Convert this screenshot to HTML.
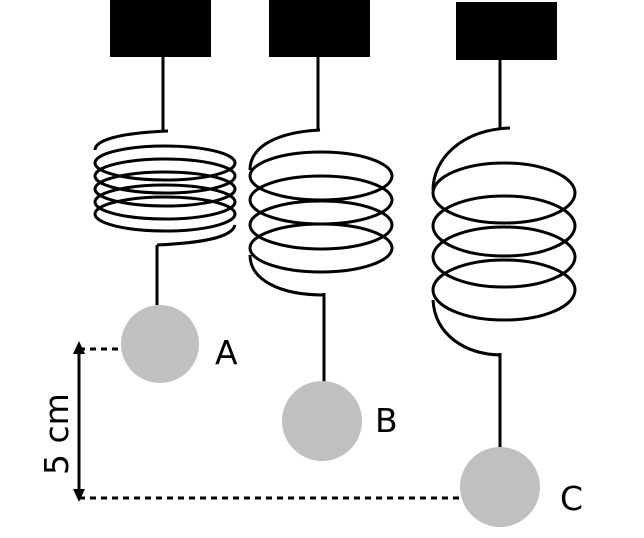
<!DOCTYPE html>
<html><head><style>body{margin:0;background:#fff}svg{display:block}</style></head><body>
<svg width="644" height="538" viewBox="0 0 644 538" xmlns="http://www.w3.org/2000/svg" font-family="DejaVu Sans, Liberation Sans, sans-serif">
<rect x="110" y="0" width="101" height="57" fill="#000"/>
<rect x="269" y="0" width="101" height="57" fill="#000"/>
<rect x="456" y="2" width="101" height="58" fill="#000"/>
<g stroke="#000" stroke-width="3" fill="none">
<!-- A -->
<line x1="163" y1="57" x2="163" y2="131"/>
<path d="M168,131 C120,133 95,140 95,150"/>
<ellipse cx="165" cy="163" rx="70" ry="17"/>
<ellipse cx="165" cy="176" rx="70" ry="17"/>
<ellipse cx="165" cy="189" rx="70" ry="17"/>
<ellipse cx="165" cy="202" rx="70" ry="17"/>
<ellipse cx="165" cy="214" rx="70" ry="17"/>
<path d="M235,225 C232,238 200,243 157,245"/>
<line x1="157" y1="245" x2="157" y2="305"/>
<!-- B -->
<line x1="318" y1="57" x2="318" y2="129"/>
<path d="M320,130 C280,132 250,145 250,170"/>
<ellipse cx="321" cy="176" rx="71" ry="24"/>
<ellipse cx="321" cy="200" rx="71" ry="24"/>
<ellipse cx="321" cy="225" rx="71" ry="24"/>
<ellipse cx="321" cy="248" rx="71" ry="24"/>
<path d="M250,255 C250,280 280,295 324,295"/>
<line x1="324" y1="293" x2="324" y2="385"/>
<!-- C -->
<line x1="500" y1="57" x2="500" y2="128"/>
<path d="M510,128 C460,130 433,160 433,190"/>
<ellipse cx="504" cy="193" rx="71" ry="30"/>
<ellipse cx="504" cy="226" rx="71" ry="30"/>
<ellipse cx="504" cy="257" rx="71" ry="30"/>
<ellipse cx="504" cy="290" rx="71" ry="30"/>
<path d="M433,300 C435,335 465,354 500,355"/>
<line x1="500" y1="353" x2="500" y2="450"/>
<!-- dimension -->
<line x1="79" y1="350" x2="79" y2="495"/>
<line x1="79" y1="349" x2="120" y2="349" stroke-dasharray="6,5"/>
<line x1="79" y1="498" x2="460" y2="498" stroke-dasharray="6,5"/>
</g>
<polygon points="79,341 73,354 85,354" fill="#000"/>
<polygon points="79,502 73,489 85,489" fill="#000"/>
<circle cx="160" cy="344" r="39" fill="#c0c0c0"/>
<circle cx="322" cy="421" r="40" fill="#c0c0c0"/>
<circle cx="500" cy="487" r="40" fill="#c0c0c0"/>
<text x="215" y="364" font-size="33">A</text>
<text x="375" y="432" font-size="33">B</text>
<text x="560" y="510" font-size="33">C</text>
<text transform="translate(68,475) rotate(-90)" font-size="33">5 cm</text>
</svg>
</body></html>
